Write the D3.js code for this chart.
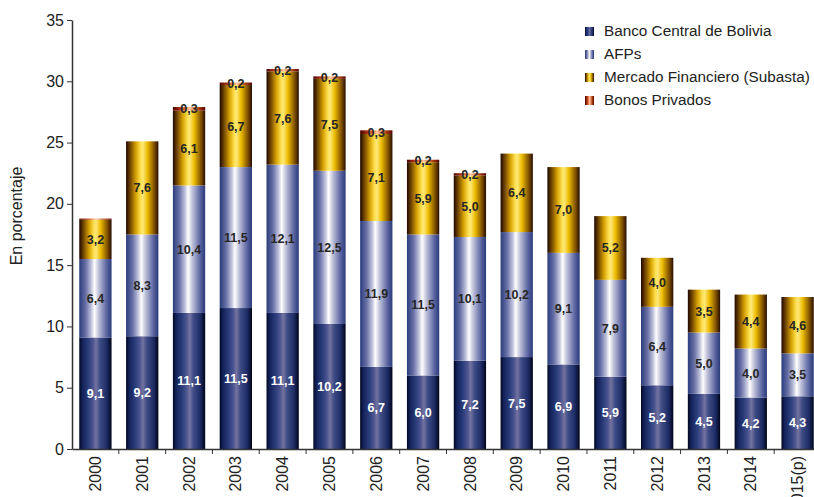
<!DOCTYPE html>
<html><head><meta charset="utf-8">
<script src="https://cdn.jsdelivr.net/npm/d3@7"></script>
<style>
body{margin:0;background:#fff;}
svg{display:block;font-family:"Liberation Sans",Arial,sans-serif;}
</style></head>
<body><svg id="c" width="814" height="497"></svg>
<script>
const years = ["2000","2001","2002","2003","2004","2005","2006","2007","2008","2009","2010","2011","2012","2013","2014","2015(p)"];
const bcb     = [9.1, 9.2, 11.1, 11.5, 11.1, 10.2, 6.7, 6.0, 7.2, 7.5, 6.9, 5.9, 5.2, 4.5, 4.2, 4.3];
const afps    = [6.4, 8.3, 10.4, 11.5, 12.1, 12.5, 11.9, 11.5, 10.1, 10.2, 9.1, 7.9, 6.4, 5.0, 4.0, 3.5];
const mercado = [3.2, 7.6, 6.1, 6.7, 7.6, 7.5, 7.1, 5.9, 5.0, 6.4, 7.0, 5.2, 4.0, 3.5, 4.4, 4.6];
const bonos   = [0.1, 0.0, 0.3, 0.2, 0.2, 0.2, 0.3, 0.2, 0.2, 0.0, 0.0, 0.0, 0.0, 0.0, 0.0, 0.0];
const seriesNames = ["Banco Central de Bolivia","AFPs","Mercado Financiero (Subasta)","Bonos Privados"];
const yTicks = [0,5,10,15,20,25,30,35];

const svg = d3.select("#c");
const x = d3.scaleBand().domain(years).range([72, 821]).paddingInner(0.31).paddingOuter(0.155);
const y = d3.scaleLinear().domain([0,35]).range([449, 20]);

const defs = svg.append("defs");
const grads = [
  [[0,"#000820"],[0.1,"#14225a"],[0.28,"#2a3c7a"],[0.42,"#4a5490"],[0.52,"#74739f"],[0.64,"#3e4c86"],[0.85,"#1e2c66"],[1,"#000418"]],
  [[0,"#2a3c7c"],[0.2,"#6870a6"],[0.38,"#c4c6de"],[0.47,"#ffffff"],[0.6,"#c0c2da"],[0.85,"#5a64a0"],[1,"#2a3a7a"]],
  [[0,"#1e0600"],[0.12,"#6a4000"],[0.3,"#d4a000"],[0.45,"#ffe050"],[0.52,"#ffe878"],[0.66,"#edbc00"],[0.88,"#7a4c00"],[1,"#260c00"]],
  [[0,"#4a0000"],[0.22,"#a83010"],[0.45,"#ff9a60"],[0.52,"#ffc8a0"],[0.8,"#b04010"],[1,"#500000"]]
];
grads.forEach((g,i)=>{
  const lg = defs.append("linearGradient").attr("id","g"+i).attr("x1",0).attr("x2",1).attr("y1",0).attr("y2",0);
  g.forEach(s=>lg.append("stop").attr("offset",s[0]).attr("stop-color",s[1]));
});

const data = years.map((yr,i)=>({year:yr, v:[bcb[i],afps[i],mercado[i],bonos[i]]}));
const stack = d3.stack().keys([0,1,2,3]).value((d,k)=>d.v[k]);
const layers = stack(data);

layers.forEach((layer,k)=>{
  svg.append("g").selectAll("rect").data(layer).join("rect")
    .attr("x",d=>x(d.data.year))
    .attr("width",x.bandwidth())
    .attr("y",d=>y(d[1]))
    .attr("height",d=>Math.max(0,y(d[0])-y(d[1])))
    .attr("fill","url(#g"+k+")");
});

// labels
layers.forEach((layer,k)=>{
  svg.append("g").selectAll("text").data(layer.filter(d=>d.data.v[k]>=0.15)).join("text")
    .attr("x",d=>x(d.data.year)+x.bandwidth()/2)
    .attr("y",d=>(y(d[0])+y(d[1]))/2)
    .attr("dy","0.36em")
    .attr("text-anchor","middle")
    .attr("font-size",12.5)
    .attr("font-weight","bold")
    .attr("fill",k===0?"#ffffff":"#262626")
    .text(d=>d3.format(".1f")(d.data.v[k]).replace(".",","));
});

// y axis
const yAxis = svg.append("g").attr("transform","translate(72,0)")
  .call(d3.axisLeft(y).tickValues(yTicks).tickSize(5).tickSizeOuter(0));
yAxis.select(".domain").attr("stroke","#333").attr("stroke-width",1.5);
yAxis.selectAll(".tick line").attr("stroke","#333");
yAxis.selectAll(".tick text").attr("font-size",16).attr("fill","#222").attr("x",-8)
  .style("font-family",'"Liberation Sans",Arial,sans-serif');

// x axis
const xAxis = svg.append("g").attr("transform","translate(0,449)")
  .call(d3.axisBottom(x).tickSize(0).tickSizeOuter(0));
xAxis.select(".domain").attr("stroke","#333").attr("stroke-width",1.5);
xAxis.selectAll(".tick text")
  .attr("font-size",16).attr("fill","#222")
  .attr("transform","rotate(-90)")
  .attr("x",-7).attr("y",0).attr("dy","0.35em")
  .attr("text-anchor","end")
  .style("font-family",'"Liberation Sans",Arial,sans-serif');
// tick marks at band boundaries
const bounds = years.slice(1).map(yr=>x(yr)-x.step()*x.paddingInner()/2);
svg.append("g").selectAll("line").data(bounds).join("line")
  .attr("x1",d=>d).attr("x2",d=>d).attr("y1",449).attr("y2",454)
  .attr("stroke","#333");

// y title
svg.append("text").attr("transform","translate(22,216) rotate(-90)")
  .attr("text-anchor","middle").attr("font-size",16).attr("fill","#222")
  .text("En porcentaje");

// legend
const leg = svg.append("g").attr("transform","translate(585,31)");
seriesNames.forEach((n,i)=>{
  const g = leg.append("g").attr("transform",`translate(0,${i*23})`);
  g.append("rect").attr("x",0).attr("y",-4).attr("width",9).attr("height",9).attr("fill","url(#g"+i+")");
  g.append("text").attr("x",19).attr("y",0).attr("dy","0.35em").attr("font-size",15.3).attr("fill","#222").text(n);
});
</script></body></html>
